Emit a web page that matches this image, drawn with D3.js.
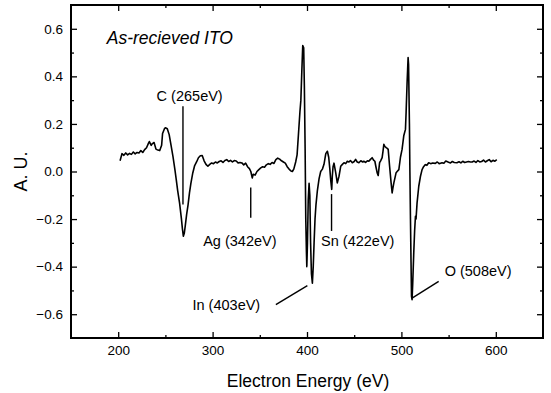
<!DOCTYPE html>
<html>
<head>
<meta charset="utf-8">
<script src="https://cdn.jsdelivr.net/npm/d3@7"></script>
<style>
  body { margin: 0; background: #fff; }
  svg { font-family: 'Liberation Sans', Arial, sans-serif; }
  .domain { display: none; }
</style>
</head>
<body>
<div id="chart"></div>
<script>
// spectrum
var energy = [
  202, 204, 206, 208, 210, 212, 214, 216, 218, 220, 222, 224, 226, 228, 230, 232, 233, 235, 236, 238, 240, 242, 244, 246,
  247, 249, 250, 252, 254, 256, 258, 260, 261.5, 263, 265, 267, 268, 269, 270, 271, 272.5, 274, 275.5, 277, 279, 281, 283, 285, 287, 289,
  291, 293, 295, 297, 299, 301, 303, 305, 307, 309, 311, 313, 315, 317, 319, 321, 323, 325, 327, 329, 331, 333, 335, 337, 339, 340.5,
  342, 343, 345, 347, 349, 351, 353, 355, 357, 359, 361, 363, 365, 367, 369, 371, 373, 375, 377, 379, 381, 383, 384.5, 386, 388, 389.5,
  391, 392.5, 393.5, 394.5, 395.5, 396.5, 397.2, 398, 398.7, 399.4, 399.8, 400.5, 401.3, 402.2, 403, 403.8, 404.7, 405.7, 406.6, 407.5,
  408.5, 409.5, 411, 412.8, 414.5, 416.3, 418, 419.9, 421.6, 423, 424.2, 425.1, 426.2, 426.8, 427.6, 428.6, 430.4, 432.1, 433.9, 435.7,
  437.5, 439.2, 441, 442.7, 444.4, 446, 448, 450, 451.5, 453.2, 455, 457, 459, 460.2, 462, 464, 465.5, 467, 469, 470.5, 471.9, 473,
  474.3, 475.4, 476.9, 478, 479.6, 480.5, 481.4, 482.5, 483.9, 485, 486, 487.5, 489.1, 490.2, 491, 492, 493, 494.4, 495.5, 497.3, 499,
  500.7, 502.5, 504.3, 505, 506, 506.6, 507.1, 507.6, 508.5, 509, 509.6, 510.2, 510.7, 511.3, 512, 513.1, 514, 514.9, 515.5, 516.6,
  518.4, 520.2, 521.9, 523.5, 525.4, 527, 528.9, 531, 533, 536, 538, 540, 543, 545, 547, 550, 552, 554, 556, 558.8, 561, 563, 565,
  567, 569, 571, 573, 575, 577, 579, 581, 583, 585, 587, 589, 591, 593, 595, 597, 599, 601
]
var intensity = [
  0.045, 0.075, 0.068, 0.078, 0.070, 0.076, 0.072, 0.082, 0.074, 0.080, 0.078, 0.088, 0.080, 0.092, 0.100, 0.118, 0.126, 0.110, 0.116, 0.122, 0.094, 0.090, 0.088, 0.110,
  0.16, 0.18, 0.184, 0.18, 0.155, 0.11, 0.064, 0.01, -0.034, -0.08, -0.132, -0.2, -0.24, -0.272, -0.26, -0.23, -0.18, -0.14, -0.09, -0.05, -0.006, 0.025, 0.04, 0.058, 0.066, 0.067,
  0.045, 0.03, 0.022, 0.03, 0.036, 0.033, 0.04, 0.036, 0.042, 0.045, 0.038, 0.046, 0.05, 0.042, 0.047, 0.04, 0.046, 0.044, 0.036, 0.038, 0.036, 0.028, 0.035, 0.02, 0.012, 0.0,
  -0.027, -0.012, -0.015, 0.0, 0.008, 0.015, 0.02, 0.018, 0.028, 0.033, 0.03, 0.038, 0.034, 0.05, 0.056, 0.052, 0.045, 0.04, 0.035, 0.02, 0.01, 0.002, 0.0, 0.01, 0.04, 0.07,
  0.16, 0.25, 0.3, 0.42, 0.53, 0.52, 0.36, 0.1, -0.2, -0.34, -0.40, -0.30, -0.12, -0.05, -0.1, -0.3, -0.43, -0.47, -0.40, -0.3,
  -0.2, -0.14, -0.08, -0.03, 0.0, 0.01, 0.03, 0.075, 0.085, 0.06, 0.01, -0.035, -0.075, -0.02, 0.02, 0.035, -0.005, -0.048, -0.02, 0.022,
  0.03, 0.037, 0.033, 0.043, 0.04, 0.046, 0.037, 0.042, 0.051, 0.04, 0.037, 0.045, 0.04, 0.043, 0.038, 0.045, 0.043, 0.05, 0.058, 0.048, 0.043, 0.02,
  -0.005, -0.017, 0.037, 0.045, 0.058, 0.085, 0.114, 0.105, 0.1, 0.097, 0.093, 0.022, -0.048, -0.09, -0.07, -0.048, -0.03, -0.005, 0.0, 0.008, 0.06,
  0.093, 0.15, 0.177, 0.25, 0.37, 0.43, 0.479, 0.45, 0.2, 0.0, -0.2, -0.38, -0.525, -0.539, -0.47, -0.341, -0.25, -0.188, -0.2, -0.132,
  -0.062, -0.02, 0.008, 0.02, 0.029, 0.026, 0.037, 0.033, 0.036, 0.034, 0.04, 0.033, 0.037, 0.035, 0.044, 0.039, 0.036, 0.042, 0.038, 0.037, 0.041, 0.036, 0.043,
  0.038, 0.04, 0.042, 0.04, 0.04, 0.044, 0.038, 0.046, 0.04, 0.042, 0.048, 0.04, 0.045, 0.05, 0.041, 0.047, 0.043, 0.05
]

var xTicks = [200, 300, 400, 500, 600]
var xMinorTicks = [250, 350, 450, 550]
var yTicks = [-0.6, -0.4, -0.2, 0.0, 0.2, 0.4, 0.6]
var yMinorTicks = [-0.5, -0.3, -0.1, 0.1, 0.3, 0.5]

// peak labels: text, where the text starts, and the pointer line
var labelText = ['C (265eV)', 'Ag (342eV)', 'Sn (422eV)', 'In (403eV)', 'O (508eV)']
var labelAt = [[240.7, 0.295], [290, -0.312], [414.9, -0.312], [278.7, -0.581], [545.8, -0.438]]
var pointers = [
  [[268.6, 0.274], [268.6, -0.139]],
  [[340.4, -0.067], [340.4, -0.194]],
  [[426, -0.095], [426, -0.25]],
  [[367, -0.56], [400.4, -0.48]],
  [[511.3, -0.532], [539.5, -0.462]]
]

function drawChart () {
  var width = 551
  var height = 393
  var margin = {top: 5, right: 8, bottom: 55, left: 71}
  var w = width - margin.left - margin.right
  var h = height - margin.top - margin.bottom

  var svg = d3.select('#chart')
    .append('svg')
    .attr('width', width)
    .attr('height', height)

  var g = svg.append('g')
    .attr('transform', 'translate(' + margin.left + ',' + margin.top + ')')

  var x = d3.scaleLinear().domain([150, 650]).range([0, w])
  var y = d3.scaleLinear().domain([-0.7, 0.7]).range([h, 0])

  // inward ticks on all four sides
  function addAxis (axis, transform, labels) {
    var a = g.append('g').attr('transform', transform).call(axis)
    a.selectAll('line').attr('stroke', '#000').attr('stroke-width', 1.3)
    if (labels) {
      a.selectAll('text').attr('fill', '#000').style('font-size', '13.5px')
    }
    return a
  }

  addAxis(d3.axisBottom(x).tickValues(xTicks).tickSize(-6).tickPadding(7).tickFormat(d3.format('d')), 'translate(0,' + h + ')', true)
  addAxis(d3.axisBottom(x).tickValues(xMinorTicks).tickSize(-3).tickFormat(''), 'translate(0,' + h + ')')
  addAxis(d3.axisTop(x).tickValues(xTicks).tickSize(-6).tickFormat(''), 'translate(0,0)')
  addAxis(d3.axisTop(x).tickValues(xMinorTicks).tickSize(-3).tickFormat(''), 'translate(0,0)')
  addAxis(d3.axisLeft(y).tickValues(yTicks).tickSize(-6).tickPadding(8).tickFormat(d3.format('.1f')), 'translate(0,0)', true)
  addAxis(d3.axisLeft(y).tickValues(yMinorTicks).tickSize(-3).tickFormat(''), 'translate(0,0)')
  addAxis(d3.axisRight(y).tickValues(yTicks).tickSize(-6).tickFormat(''), 'translate(' + w + ',0)')
  addAxis(d3.axisRight(y).tickValues(yMinorTicks).tickSize(-3).tickFormat(''), 'translate(' + w + ',0)')

  g.append('rect')
    .attr('width', w)
    .attr('height', h)
    .attr('fill', 'none')
    .attr('stroke', '#000')
    .attr('stroke-width', 2)

  var data = energy.map(function (e, i) {
    return {e: e, v: intensity[i]}
  })

  var line = d3.line()
    .x(function (d) { return x(d.e) })
    .y(function (d) { return y(d.v) })

  g.append('path')
    .datum(data)
    .attr('d', line)
    .attr('fill', 'none')
    .attr('stroke', '#000')
    .attr('stroke-width', 1.6)
    .attr('stroke-linejoin', 'round')

  g.selectAll('.pointer')
    .data(pointers)
    .enter()
    .append('line')
    .attr('class', 'pointer')
    .attr('x1', function (d) { return x(d[0][0]) })
    .attr('y1', function (d) { return y(d[0][1]) })
    .attr('x2', function (d) { return x(d[1][0]) })
    .attr('y2', function (d) { return y(d[1][1]) })
    .attr('stroke', '#000')
    .attr('stroke-width', 1.4)

  g.selectAll('.peak')
    .data(labelText)
    .enter()
    .append('text')
    .attr('class', 'peak')
    .attr('x', function (d, i) { return x(labelAt[i][0]) })
    .attr('y', function (d, i) { return y(labelAt[i][1]) })
    .style('font-size', '14.5px')
    .text(function (d) { return d })

  g.append('text')
    .attr('x', x(187.9))
    .attr('y', y(0.535))
    .style('font-size', '17.5px')
    .style('font-style', 'italic')
    .text('As-recieved ITO')

  svg.append('text')
    .attr('x', margin.left + w / 2 + 1)
    .attr('y', 387)
    .attr('text-anchor', 'middle')
    .style('font-size', '17.5px')
    .text('Electron Energy (eV)')

  svg.append('text')
    .attr('transform', 'translate(27,' + (margin.top + y(0)) + ') rotate(-90)')
    .attr('text-anchor', 'middle')
    .style('font-size', '18px')
    .text('A. U.')
}

drawChart()
</script>
</body>
</html>
